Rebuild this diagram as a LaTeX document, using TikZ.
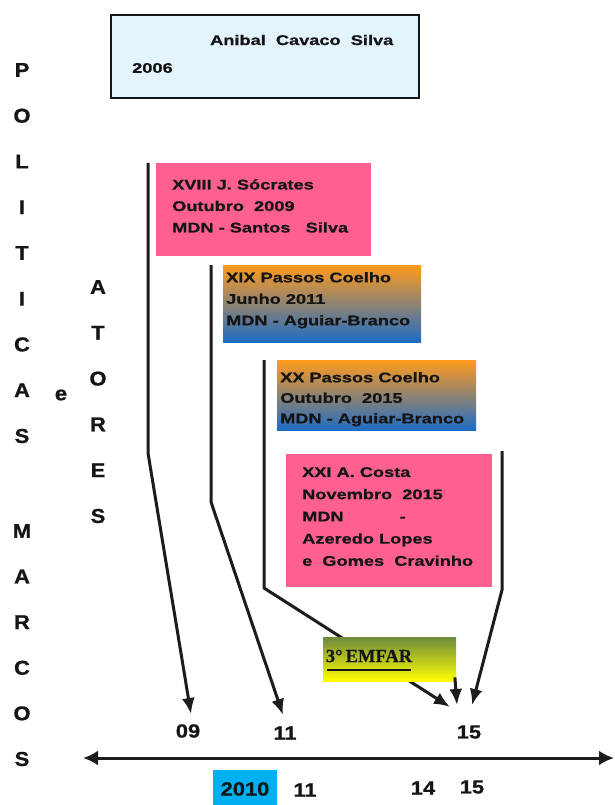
\documentclass[tikz,border=0pt]{standalone}
\usepackage{fontspec}
\setmainfont{Liberation Sans}
\newfontfamily\boxfont[FakeStretch=1.3,FakeBold=0.8]{Liberation Sans Bold}
\newfontfamily\sidefont[FakeStretch=1.1,FakeBold=0.8]{Liberation Sans Bold}
\newfontfamily\numfont[FakeStretch=1.15,FakeBold=0.8]{Liberation Sans Bold}
\newfontfamily\emfarfont[FakeBold=0.6]{Liberation Serif Bold}
\usetikzlibrary{arrows.meta}

\definecolor{paleblue}{HTML}{E4F4FC}
\definecolor{rosebox}{HTML}{FF6090}
\definecolor{orangetop}{HTML}{FF9A1E}
\definecolor{mauvemid}{HTML}{C08494}
\definecolor{bluebottom}{HTML}{1E6CC6}
\definecolor{olivetop}{HTML}{6E8B3D}
\definecolor{cyanbox}{HTML}{00B0F0}
\definecolor{ink}{HTML}{151515}
\definecolor{linegray}{HTML}{1C1C1C}

\tikzset{
  panel/.style={rectangle, anchor=north west, inner sep=0pt},
  boxtext/.style={anchor=north west, inner sep=0pt, align=left, text=ink,
    font=\boxfont\fontsize{14}{21.5}\selectfont},
  side/.style={inner sep=0pt, text=ink, font=\sidefont\fontsize{20}{24}\selectfont},
  num/.style={inner sep=0pt, text=ink, font=\numfont\fontsize{19}{22}\selectfont},
  conn/.style={draw=linegray, line width=3pt, line join=round,
    -{Latex[length=16pt,width=13pt]}},
  gradbox/.style={panel, top color=orangetop, middle color=mauvemid, bottom color=bluebottom},
}

\begin{document}
\begin{tikzpicture}[x=1pt,y=-1pt]
\useasboundingbox (0,0) rectangle (614,805);

% --- President box
\node[panel, draw=ink, line width=2.4pt, fill=paleblue,
      minimum width=308pt, minimum height=83pt] (cavaco) at (110,14) {};
\node[boxtext, anchor=west] (cavacoName) at (210,40) {Anibal\ \ Cavaco\ \ Silva};
\node[boxtext, anchor=west] (cavacoYear) at (132,68) {2006};

% --- Left column: POLITICAS e ATORES / MARCOS
\foreach \l [count=\i] in {P,O,L,I,T,I,C,A,S}
  \node[side] (pol\i) at (22,{70+45.75*(\i-1)}) {\l};
\foreach \l [count=\i] in {M,A,R,C,O,S}
  \node[side] (mar\i) at (22,{531+45.6*(\i-1)}) {\l};
\foreach \l [count=\i] in {A,T,O,R,E,S}
  \node[side] (ato\i) at (98,{287+45.8*(\i-1)}) {\l};
\node[side] (conj) at (61,395) {e};

% --- Government boxes
\node[panel, fill=rosebox, minimum width=215pt, minimum height=93pt] (gov18) at (156,163) {};
\node[boxtext] (gov18txt) at (172,179) {XVIII J. Sócrates\\Outubro\ \ 2009\\MDN - Santos\ \ \ Silva};

\node[gradbox, minimum width=198pt, minimum height=77pt] (gov19) at (223,265) {};
\node[boxtext] (gov19txt) at (226,272) {XIX Passos Coelho\\Junho 2011\\MDN - Aguiar-Branco};

\node[gradbox, minimum width=199pt, minimum height=70pt] (gov20) at (277,360) {};
\node[boxtext, font=\boxfont\fontsize{14}{20.5}\selectfont] (gov20txt) at (280,372) {XX Passos Coelho\\Outubro\ \ 2015\\MDN - Aguiar-Branco};

\node[panel, fill=rosebox, minimum width=206pt, minimum height=133pt] (gov21) at (286,454) {};
\node[boxtext, font=\boxfont\fontsize{14}{22.2}\selectfont] (gov21txt) at (302,467)
  {XXI A. Costa\\Novembro\ \ 2015\\MDN\hspace*{56pt}-\\Azeredo Lopes\\e\ \ Gomes\ \ Cravinho};

% --- Connectors
\coordinate (a1top) at (148,163); \coordinate (a1bend) at (148,453); \coordinate (a1tip) at (191,714);
\coordinate (a2top) at (211,265); \coordinate (a2bend) at (211,502); \coordinate (a2tip) at (283,715);
\coordinate (a3top) at (264,360); \coordinate (a3bend) at (264,588); \coordinate (a3tip) at (450,707);
\coordinate (a5top) at (502,451); \coordinate (a5bend) at (502,590); \coordinate (a5tip) at (472,705);
\coordinate (a4tip) at (457,705);

\draw[conn] (a1top) -- (a1bend) -- (a1tip);
\draw[conn] (a2top) -- (a2bend) -- (a2tip);
\draw[conn] (a3top) -- (a3bend) -- (a3tip);
\draw[conn] (a5top) -- (a5bend) -- (a5tip);

% --- 3° EMFAR
\node[panel, top color=olivetop, bottom color=yellow,
      minimum width=133pt, minimum height=44pt] (emfar) at (323,637) {};
\node[inner sep=0pt, text=ink, font=\emfarfont\fontsize{18.5}{22}\selectfont] (emfartxt) at (369,656) {3°\,EMFAR};
\draw[ink, line width=2.2pt] (327,670) -- (411,670);
\draw[conn] ([xshift=-1.5pt,yshift=4pt]emfar.south east) -- (a4tip);

% --- Years above the axis
\node[num] (y09) at (188,731) {09};
\node[num] (y11) at (285,733) {11};
\node[num] (y15) at (469,732) {15};

% --- Time axis
\coordinate (axl) at (83,758);
\coordinate (axr) at (614,758);
\draw[draw=linegray, line width=3pt, {Latex[length=15pt,width=15pt]}-{Latex[length=15pt,width=15pt]}] (axl) -- (axr);

% --- Years below the axis
\node[panel, fill=cyanbox, minimum width=64pt, minimum height=36pt] (yr2010box) at (213,770) {};
\node[num] (yr2010) at (245,789) {2010};
\node[num] (yb11) at (305,790) {11};
\node[num] (yb14) at (423,788) {14};
\node[num] (yb15) at (472,787) {15};
\end{tikzpicture}
\end{document}
